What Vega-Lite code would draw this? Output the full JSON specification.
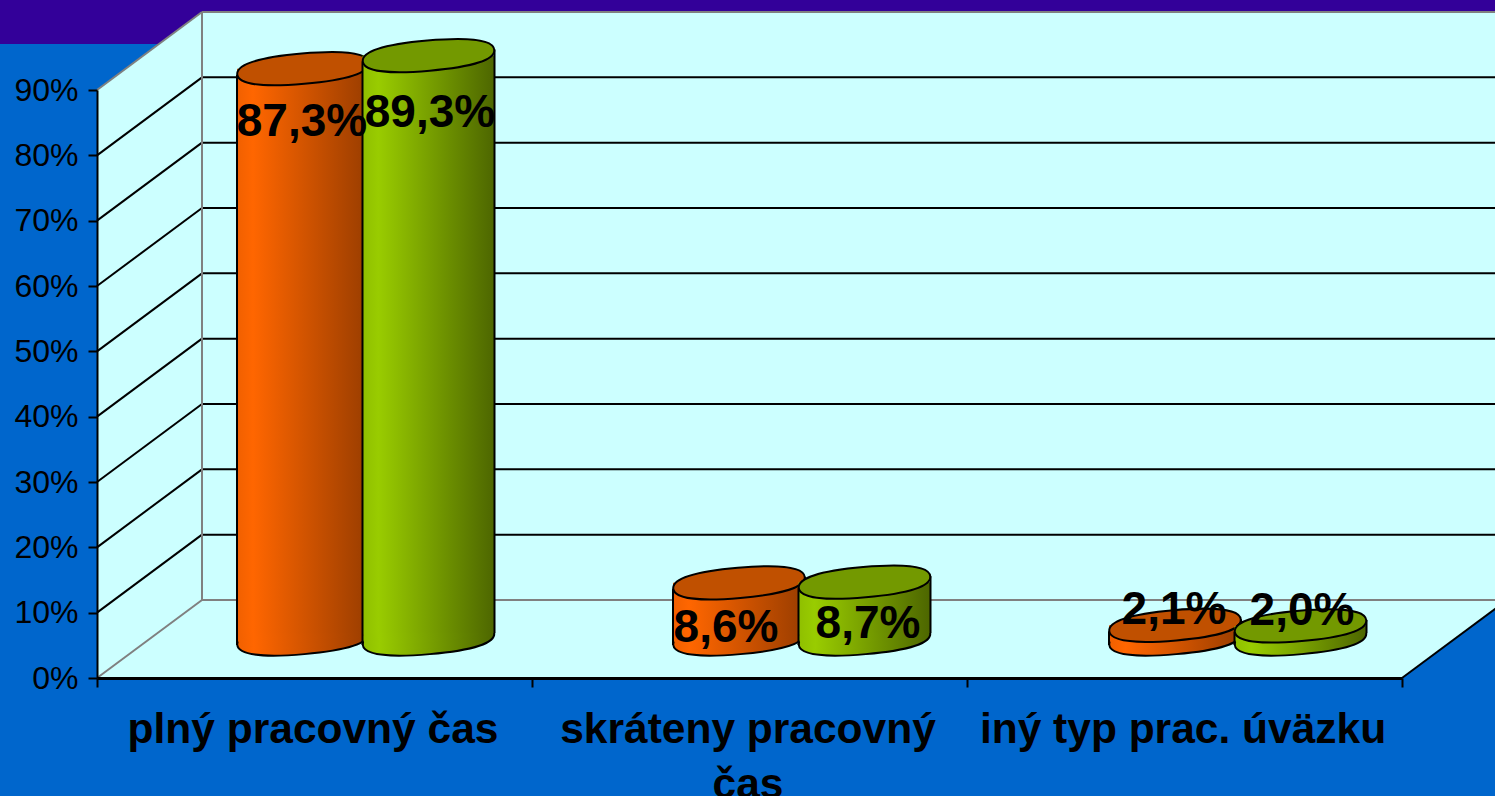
{
"$schema":"https://vega.github.io/schema/vega-lite/v6.json",
"width":1495,"height":796,"padding":0,"autosize":{"type":"none"},
"background":"#0066CC",
"config":{"view":{"stroke":null},"font":"Liberation Sans"},
"datasets":{
"bars":[
{"cat":"plný pracovný čas","series":"s1","value":87.3,"label":"87,3%"},
{"cat":"plný pracovný čas","series":"s2","value":89.3,"label":"89,3%"},
{"cat":"skráteny pracovný čas","series":"s1","value":8.6,"label":"8,6%"},
{"cat":"skráteny pracovný čas","series":"s2","value":8.7,"label":"8,7%"},
{"cat":"iný typ prac. úväzku","series":"s1","value":2.1,"label":"2,1%"},
{"cat":"iný typ prac. úväzku","series":"s2","value":2.0,"label":"2,0%"}],
"ticks":[{"v":0},{"v":10},{"v":20},{"v":30},{"v":40},{"v":50},{"v":60},{"v":70},{"v":80},{"v":90}]
},
"resolve":{"scale":{"x":"independent","xOffset":"independent"},"axis":{"x":"independent","y":"independent"}},
"layer":[
{"data":{"values":[{"x0":-1,"x1":4,"y0":97.04,"y1":110}]},"mark":{"type":"rect","fill":"#330099"},
"encoding":{"x":{"field":"x0","type":"quantitative","axis":null,"scale":{"domain":[0,3],"range":[97,1402],"nice":false,"zero":false}},"x2":{"field":"x1"},
"y":{"field":"y0","type":"quantitative","axis":{"orient":"left","offset":-97,"values":[0,10,20,30,40,50,60,70,80,90],"labelExpr":"datum.value+'%'","title":null,"grid":false,"zindex":1,"domainColor":"#000000","domainWidth":2,"tickColor":"#000000","tickWidth":2,"tickSize":9,"labelFontSize":32,"labelColor":"#000000","labelPadding":10,"labelFont":"Liberation Sans"},"scale":{"domain":[0,90],"range":[678,90],"nice":false,"zero":false}},"y2":{"field":"y1"}}},
{"data":{"values":[{"x":0,"y":0,"y2":0},{"x":0.2414,"y":0,"y2":11.94},{"x":3,"y":0,"y2":11.94},{"x":3.2414,"y":11.94,"y2":11.94}]},"mark":{"type":"area","fill":"#CCFFFF","opacity":1},
"encoding":{"x":{"field":"x","type":"quantitative","axis":null,"scale":{"domain":[0,3],"range":[97,1402],"nice":false,"zero":false}},"y":{"field":"y","type":"quantitative","axis":null},"y2":{"field":"y2"}}},
{"data":{"values":[{"x":0,"y":0,"y2":90},{"x":0.2414,"y":11.94,"y2":101.94}]},"mark":{"type":"area","fill":"#CCFFFF","opacity":1},
"encoding":{"x":{"field":"x","type":"quantitative","axis":null,"scale":{"domain":[0,3],"range":[97,1402],"nice":false,"zero":false}},"y":{"field":"y","type":"quantitative","axis":null},"y2":{"field":"y2"}}},
{"data":{"values":[{"x0":0,"x1":3,"y0":0,"y1":90}]},"mark":{"type":"rect","fill":"#CCFFFF","xOffset":105,"x2Offset":105,"yOffset":-78,"y2Offset":-78},
"encoding":{"x":{"field":"x0","type":"quantitative","axis":null,"scale":{"domain":[0,3],"range":[97,1402],"nice":false,"zero":false}},"x2":{"field":"x1"},"y":{"field":"y0","type":"quantitative","axis":null},"y2":{"field":"y1"}}},
{"data":{"name":"ticks"},"mark":{"type":"rule","strokeWidth":2,"xOffset":105,"x2Offset":105,"yOffset":-78,"y2Offset":-78},
"encoding":{"x":{"datum":0,"type":"quantitative","axis":null,"scale":{"domain":[0,3],"range":[97,1402],"nice":false,"zero":false}},"x2":{"datum":3},"y":{"field":"v","type":"quantitative","axis":null},"y2":{"field":"v"},"stroke":{"condition":{"test":"datum.v==0||datum.v==90","value":"#808080"},"value":"#000000"}}},
{"data":{"name":"ticks"},"mark":{"type":"rule","strokeWidth":2,"x2Offset":105,"y2Offset":-78},
"encoding":{"x":{"datum":0,"type":"quantitative","axis":null,"scale":{"domain":[0,3],"range":[97,1402],"nice":false,"zero":false}},"x2":{"datum":0},"y":{"field":"v","type":"quantitative","axis":null},"y2":{"field":"v"},"stroke":{"condition":{"test":"datum.v==0||datum.v==90","value":"#808080"},"value":"#000000"}}},
{"data":{"values":[{"v":0}]},"mark":{"type":"rule","strokeWidth":2,"stroke":"#808080","xOffset":105,"x2Offset":105,"yOffset":-78,"y2Offset":-78},
"encoding":{"x":{"datum":0,"type":"quantitative","axis":null,"scale":{"domain":[0,3],"range":[97,1402],"nice":false,"zero":false}},"x2":{"datum":0},"y":{"datum":0,"type":"quantitative","axis":null},"y2":{"datum":90}}},
{"data":{"values":[{"v":0}]},"mark":{"type":"rule","strokeWidth":2,"stroke":"#000000","x2Offset":105,"y2Offset":-78},
"encoding":{"x":{"datum":3,"type":"quantitative","axis":null,"scale":{"domain":[0,3],"range":[97,1402],"nice":false,"zero":false}},"x2":{"datum":3},"y":{"field":"v","type":"quantitative","axis":null},"y2":{"field":"v"}}},

{"data":{"name":"bars"},"mark":{"type":"point","size":0,"opacity":0},
"encoding":{"x":{"field":"cat","type":"nominal","sort":null,"scale":{"type":"band","domain":["plný pracovný čas","skráteny pracovný čas","iný typ prac. úväzku"],"range":[97,1402],"paddingInner":0,"paddingOuter":0},
"axis":{"orient":"bottom","offset":-118,"title":null,"grid":false,"zindex":1,"tickBand":"extent","domainColor":"#000000","domainWidth":3,"tickColor":"#000000","tickWidth":2,"tickSize":9,"labelAngle":0,"labelFontSize":42.5,"labelFontWeight":"bold","labelColor":"#000000","labelPadding":21,"labelOffset":-2,"labelLimit":0,"labelLineHeight":55,"labelFont":"Liberation Sans","labelBaseline":"top","labelOverlap":false,"labelExpr":"datum.label=='skráteny pracovný čas'?['skráteny pracovný','čas']:datum.label"}},
"y":{"datum":0,"type":"quantitative","axis":null}}},

{"data":{"name":"bars"},"transform":[{"filter":"datum.series=='s1'"}],"mark":{"type":"point","shape":"M-1,0 C-1,-.15 -.65,-.23 0,-.23 C.65,-.23 1,-.15 1,0 C1,.15 .65,.23 0,.23 C-.65,.23 -1,.15 -1,0 Z","size":17424,"angle":-5,"filled":true,"opacity":1,"stroke":"#000000","strokeWidth":2,"yOffset":-39,"fill":{"gradient":"linear","x1":0,"x2":1,"y1":0,"y2":0,"stops":[{"offset":0,"color":"#F06000"},{"offset":0.12,"color":"#FF6600"},{"offset":1,"color":"#993D00"}]}},
"encoding":{"x":{"field":"cat","type":"nominal","sort":null,"axis":null,"scale":{"type":"band","domain":["plný pracovný čas","skráteny pracovný čas","iný typ prac. úväzku"],"range":[97,1405],"paddingInner":0,"paddingOuter":0}},
"xOffset":{"field":"series","type":"nominal","scale":{"type":"point","domain":["s1","s2"],"range":[206,331.5],"padding":0}},
"y":{"datum":0,"type":"quantitative","axis":null}}},
{"data":{"name":"bars"},"transform":[{"filter":"datum.series=='s1'"}],"mark":{"type":"point","shape":"M-1,0 C-1,-.15 -.65,-.23 0,-.23 C.65,-.23 1,-.15 1,0 C1,.15 .65,.23 0,.23 C-.65,.23 -1,.15 -1,0 Z","size":17424,"angle":-5,"filled":true,"opacity":1,"strokeWidth":0,"yOffset":-45,"fill":{"gradient":"linear","x1":0,"x2":1,"y1":0,"y2":0,"stops":[{"offset":0,"color":"#F06000"},{"offset":0.12,"color":"#FF6600"},{"offset":1,"color":"#993D00"}]}},
"encoding":{"x":{"field":"cat","type":"nominal","sort":null,"axis":null,"scale":{"type":"band","domain":["plný pracovný čas","skráteny pracovný čas","iný typ prac. úväzku"],"range":[97,1405],"paddingInner":0,"paddingOuter":0}},
"xOffset":{"field":"series","type":"nominal","scale":{"type":"point","domain":["s1","s2"],"range":[206,331.5],"padding":0}},
"y":{"datum":0,"type":"quantitative","axis":null}}},
{"data":{"name":"bars"},"transform":[{"filter":"datum.series=='s1'"}],"mark":{"type":"point","shape":"M-1,0 C-1,-.15 -.65,-.23 0,-.23 C.65,-.23 1,-.15 1,0 C1,.15 .65,.23 0,.23 C-.65,.23 -1,.15 -1,0 Z","size":17424,"angle":-5,"filled":true,"opacity":1,"strokeWidth":0,"yOffset":-51,"fill":{"gradient":"linear","x1":0,"x2":1,"y1":0,"y2":0,"stops":[{"offset":0,"color":"#F06000"},{"offset":0.12,"color":"#FF6600"},{"offset":1,"color":"#993D00"}]}},
"encoding":{"x":{"field":"cat","type":"nominal","sort":null,"axis":null,"scale":{"type":"band","domain":["plný pracovný čas","skráteny pracovný čas","iný typ prac. úväzku"],"range":[97,1405],"paddingInner":0,"paddingOuter":0}},
"xOffset":{"field":"series","type":"nominal","scale":{"type":"point","domain":["s1","s2"],"range":[206,331.5],"padding":0}},
"y":{"datum":0,"type":"quantitative","axis":null}}},
{"data":{"name":"bars"},"transform":[{"filter":"datum.series=='s1'"}],"mark":{"type":"bar","width":132,"yOffset":-39,"y2Offset":-45,"fill":{"gradient":"linear","x1":0,"x2":1,"y1":0,"y2":0,"stops":[{"offset":0,"color":"#F06000"},{"offset":0.12,"color":"#FF6600"},{"offset":1,"color":"#993D00"}]}},
"encoding":{"x":{"field":"cat","type":"nominal","sort":null,"axis":null,"scale":{"type":"band","domain":["plný pracovný čas","skráteny pracovný čas","iný typ prac. úväzku"],"range":[97,1405],"paddingInner":0,"paddingOuter":0}},
"xOffset":{"field":"series","type":"nominal","scale":{"type":"point","domain":["s1","s2"],"range":[206,331.5],"padding":0}},
"y":{"field":"value","type":"quantitative","axis":null},"y2":{"datum":0}}},
{"data":{"name":"bars"},"transform":[{"filter":"datum.series=='s1'"}],"mark":{"type":"rule","stroke":"#000000","strokeWidth":2,"yOffset":-33,"y2Offset":-33},
"encoding":{"x":{"field":"cat","type":"nominal","sort":null,"axis":null,"scale":{"type":"band","domain":["plný pracovný čas","skráteny pracovný čas","iný typ prac. úväzku"],"range":[97,1405],"paddingInner":0,"paddingOuter":0}},
"xOffset":{"field":"series","type":"nominal","scale":{"type":"point","domain":["s1","s2"],"range":[140,265.5],"padding":0}},
"y":{"field":"value","type":"quantitative","axis":null},"y2":{"datum":0}}},
{"data":{"name":"bars"},"transform":[{"filter":"datum.series=='s1'"}],"mark":{"type":"rule","stroke":"#000000","strokeWidth":2,"yOffset":-45,"y2Offset":-45},
"encoding":{"x":{"field":"cat","type":"nominal","sort":null,"axis":null,"scale":{"type":"band","domain":["plný pracovný čas","skráteny pracovný čas","iný typ prac. úväzku"],"range":[97,1405],"paddingInner":0,"paddingOuter":0}},
"xOffset":{"field":"series","type":"nominal","scale":{"type":"point","domain":["s1","s2"],"range":[272,397.5],"padding":0}},
"y":{"field":"value","type":"quantitative","axis":null},"y2":{"datum":0}}},
{"data":{"name":"bars"},"transform":[{"filter":"datum.series=='s1'"}],"mark":{"type":"point","shape":"M-1,0 C-1,-.15 -.65,-.23 0,-.23 C.65,-.23 1,-.15 1,0 C1,.15 .65,.23 0,.23 C-.65,.23 -1,.15 -1,0 Z","size":17424,"angle":-5,"filled":true,"opacity":1,"stroke":"#000000","strokeWidth":2,"yOffset":-39,"fill":"#C05000"},
"encoding":{"x":{"field":"cat","type":"nominal","sort":null,"axis":null,"scale":{"type":"band","domain":["plný pracovný čas","skráteny pracovný čas","iný typ prac. úväzku"],"range":[97,1405],"paddingInner":0,"paddingOuter":0}},
"xOffset":{"field":"series","type":"nominal","scale":{"type":"point","domain":["s1","s2"],"range":[206,331.5],"padding":0}},
"y":{"field":"value","type":"quantitative","axis":null}}},

{"data":{"name":"bars"},"transform":[{"filter":"datum.series=='s2'"}],"mark":{"type":"point","shape":"M-1,0 C-1,-.15 -.65,-.23 0,-.23 C.65,-.23 1,-.15 1,0 C1,.15 .65,.23 0,.23 C-.65,.23 -1,.15 -1,0 Z","size":17424,"angle":-5,"filled":true,"opacity":1,"stroke":"#000000","strokeWidth":2,"yOffset":-39,"fill":{"gradient":"linear","x1":0,"x2":1,"y1":0,"y2":0,"stops":[{"offset":0,"color":"#8FBF00"},{"offset":0.12,"color":"#99CC00"},{"offset":1,"color":"#4D6600"}]}},
"encoding":{"x":{"field":"cat","type":"nominal","sort":null,"axis":null,"scale":{"type":"band","domain":["plný pracovný čas","skráteny pracovný čas","iný typ prac. úväzku"],"range":[97,1405],"paddingInner":0,"paddingOuter":0}},
"xOffset":{"field":"series","type":"nominal","scale":{"type":"point","domain":["s1","s2"],"range":[206,331.5],"padding":0}},
"y":{"datum":0,"type":"quantitative","axis":null}}},
{"data":{"name":"bars"},"transform":[{"filter":"datum.series=='s2'"}],"mark":{"type":"point","shape":"M-1,0 C-1,-.15 -.65,-.23 0,-.23 C.65,-.23 1,-.15 1,0 C1,.15 .65,.23 0,.23 C-.65,.23 -1,.15 -1,0 Z","size":17424,"angle":-5,"filled":true,"opacity":1,"strokeWidth":0,"yOffset":-45,"fill":{"gradient":"linear","x1":0,"x2":1,"y1":0,"y2":0,"stops":[{"offset":0,"color":"#8FBF00"},{"offset":0.12,"color":"#99CC00"},{"offset":1,"color":"#4D6600"}]}},
"encoding":{"x":{"field":"cat","type":"nominal","sort":null,"axis":null,"scale":{"type":"band","domain":["plný pracovný čas","skráteny pracovný čas","iný typ prac. úväzku"],"range":[97,1405],"paddingInner":0,"paddingOuter":0}},
"xOffset":{"field":"series","type":"nominal","scale":{"type":"point","domain":["s1","s2"],"range":[206,331.5],"padding":0}},
"y":{"datum":0,"type":"quantitative","axis":null}}},
{"data":{"name":"bars"},"transform":[{"filter":"datum.series=='s2'"}],"mark":{"type":"point","shape":"M-1,0 C-1,-.15 -.65,-.23 0,-.23 C.65,-.23 1,-.15 1,0 C1,.15 .65,.23 0,.23 C-.65,.23 -1,.15 -1,0 Z","size":17424,"angle":-5,"filled":true,"opacity":1,"strokeWidth":0,"yOffset":-51,"fill":{"gradient":"linear","x1":0,"x2":1,"y1":0,"y2":0,"stops":[{"offset":0,"color":"#8FBF00"},{"offset":0.12,"color":"#99CC00"},{"offset":1,"color":"#4D6600"}]}},
"encoding":{"x":{"field":"cat","type":"nominal","sort":null,"axis":null,"scale":{"type":"band","domain":["plný pracovný čas","skráteny pracovný čas","iný typ prac. úväzku"],"range":[97,1405],"paddingInner":0,"paddingOuter":0}},
"xOffset":{"field":"series","type":"nominal","scale":{"type":"point","domain":["s1","s2"],"range":[206,331.5],"padding":0}},
"y":{"datum":0,"type":"quantitative","axis":null}}},
{"data":{"name":"bars"},"transform":[{"filter":"datum.series=='s2'"}],"mark":{"type":"bar","width":132,"yOffset":-39,"y2Offset":-45,"fill":{"gradient":"linear","x1":0,"x2":1,"y1":0,"y2":0,"stops":[{"offset":0,"color":"#8FBF00"},{"offset":0.12,"color":"#99CC00"},{"offset":1,"color":"#4D6600"}]}},
"encoding":{"x":{"field":"cat","type":"nominal","sort":null,"axis":null,"scale":{"type":"band","domain":["plný pracovný čas","skráteny pracovný čas","iný typ prac. úväzku"],"range":[97,1405],"paddingInner":0,"paddingOuter":0}},
"xOffset":{"field":"series","type":"nominal","scale":{"type":"point","domain":["s1","s2"],"range":[206,331.5],"padding":0}},
"y":{"field":"value","type":"quantitative","axis":null},"y2":{"datum":0}}},
{"data":{"name":"bars"},"transform":[{"filter":"datum.series=='s2'"}],"mark":{"type":"rule","stroke":"#000000","strokeWidth":2,"yOffset":-33,"y2Offset":-33},
"encoding":{"x":{"field":"cat","type":"nominal","sort":null,"axis":null,"scale":{"type":"band","domain":["plný pracovný čas","skráteny pracovný čas","iný typ prac. úväzku"],"range":[97,1405],"paddingInner":0,"paddingOuter":0}},
"xOffset":{"field":"series","type":"nominal","scale":{"type":"point","domain":["s1","s2"],"range":[140,265.5],"padding":0}},
"y":{"field":"value","type":"quantitative","axis":null},"y2":{"datum":0}}},
{"data":{"name":"bars"},"transform":[{"filter":"datum.series=='s2'"}],"mark":{"type":"rule","stroke":"#000000","strokeWidth":2,"yOffset":-45,"y2Offset":-45},
"encoding":{"x":{"field":"cat","type":"nominal","sort":null,"axis":null,"scale":{"type":"band","domain":["plný pracovný čas","skráteny pracovný čas","iný typ prac. úväzku"],"range":[97,1405],"paddingInner":0,"paddingOuter":0}},
"xOffset":{"field":"series","type":"nominal","scale":{"type":"point","domain":["s1","s2"],"range":[272,397.5],"padding":0}},
"y":{"field":"value","type":"quantitative","axis":null},"y2":{"datum":0}}},
{"data":{"name":"bars"},"transform":[{"filter":"datum.series=='s2'"}],"mark":{"type":"point","shape":"M-1,0 C-1,-.15 -.65,-.23 0,-.23 C.65,-.23 1,-.15 1,0 C1,.15 .65,.23 0,.23 C-.65,.23 -1,.15 -1,0 Z","size":17424,"angle":-5,"filled":true,"opacity":1,"stroke":"#000000","strokeWidth":2,"yOffset":-39,"fill":"#739900"},
"encoding":{"x":{"field":"cat","type":"nominal","sort":null,"axis":null,"scale":{"type":"band","domain":["plný pracovný čas","skráteny pracovný čas","iný typ prac. úväzku"],"range":[97,1405],"paddingInner":0,"paddingOuter":0}},
"xOffset":{"field":"series","type":"nominal","scale":{"type":"point","domain":["s1","s2"],"range":[206,331.5],"padding":0}},
"y":{"field":"value","type":"quantitative","axis":null}}},

{"data":{"name":"bars"},"transform":[{"filter":"datum.value==87.3"}],"mark":{"type":"text","font":"Liberation Sans","fontSize":46,"fontWeight":"bold","color":"#000000","align":"center","baseline":"middle","dx":2,"dy":14},
"encoding":{"x":{"field":"cat","type":"nominal","sort":null,"axis":null,"scale":{"type":"band","domain":["plný pracovný čas","skráteny pracovný čas","iný typ prac. úväzku"],"range":[97,1405],"paddingInner":0,"paddingOuter":0}},
"xOffset":{"field":"series","type":"nominal","scale":{"type":"point","domain":["s1","s2"],"range":[203,331],"padding":0}},
"y":{"field":"value","type":"quantitative","axis":null},"text":{"field":"label"}}},
{"data":{"name":"bars"},"transform":[{"filter":"datum.value==89.3"}],"mark":{"type":"text","font":"Liberation Sans","fontSize":46,"fontWeight":"bold","color":"#000000","align":"center","baseline":"middle","dx":2,"dy":18},
"encoding":{"x":{"field":"cat","type":"nominal","sort":null,"axis":null,"scale":{"type":"band","domain":["plný pracovný čas","skráteny pracovný čas","iný typ prac. úväzku"],"range":[97,1405],"paddingInner":0,"paddingOuter":0}},
"xOffset":{"field":"series","type":"nominal","scale":{"type":"point","domain":["s1","s2"],"range":[203,331],"padding":0}},
"y":{"field":"value","type":"quantitative","axis":null},"text":{"field":"label"}}},
{"data":{"name":"bars"},"transform":[{"filter":"datum.value==8.6"}],"mark":{"type":"text","font":"Liberation Sans","fontSize":46,"fontWeight":"bold","color":"#000000","align":"center","baseline":"middle","dx":-10,"dy":6},
"encoding":{"x":{"field":"cat","type":"nominal","sort":null,"axis":null,"scale":{"type":"band","domain":["plný pracovný čas","skráteny pracovný čas","iný typ prac. úväzku"],"range":[97,1405],"paddingInner":0,"paddingOuter":0}},
"xOffset":{"field":"series","type":"nominal","scale":{"type":"point","domain":["s1","s2"],"range":[203,331],"padding":0}},
"y":{"field":"value","type":"quantitative","axis":null},"text":{"field":"label"}}},
{"data":{"name":"bars"},"transform":[{"filter":"datum.value==8.7"}],"mark":{"type":"text","font":"Liberation Sans","fontSize":46,"fontWeight":"bold","color":"#000000","align":"center","baseline":"middle","dx":4,"dy":3},
"encoding":{"x":{"field":"cat","type":"nominal","sort":null,"axis":null,"scale":{"type":"band","domain":["plný pracovný čas","skráteny pracovný čas","iný typ prac. úväzku"],"range":[97,1405],"paddingInner":0,"paddingOuter":0}},
"xOffset":{"field":"series","type":"nominal","scale":{"type":"point","domain":["s1","s2"],"range":[203,331],"padding":0}},
"y":{"field":"value","type":"quantitative","axis":null},"text":{"field":"label"}}},
{"data":{"name":"bars"},"transform":[{"filter":"datum.cat=='iný typ prac. úväzku'"}],"mark":{"type":"text","font":"Liberation Sans","fontSize":46,"fontWeight":"bold","color":"#000000","align":"center","baseline":"middle","dx":2,"dy":-54},
"encoding":{"x":{"field":"cat","type":"nominal","sort":null,"axis":null,"scale":{"type":"band","domain":["plný pracovný čas","skráteny pracovný čas","iný typ prac. úväzku"],"range":[97,1405],"paddingInner":0,"paddingOuter":0}},
"xOffset":{"field":"series","type":"nominal","scale":{"type":"point","domain":["s1","s2"],"range":[203,331],"padding":0}},
"y":{"field":"value","type":"quantitative","axis":null},"text":{"field":"label"}}}
]
}
